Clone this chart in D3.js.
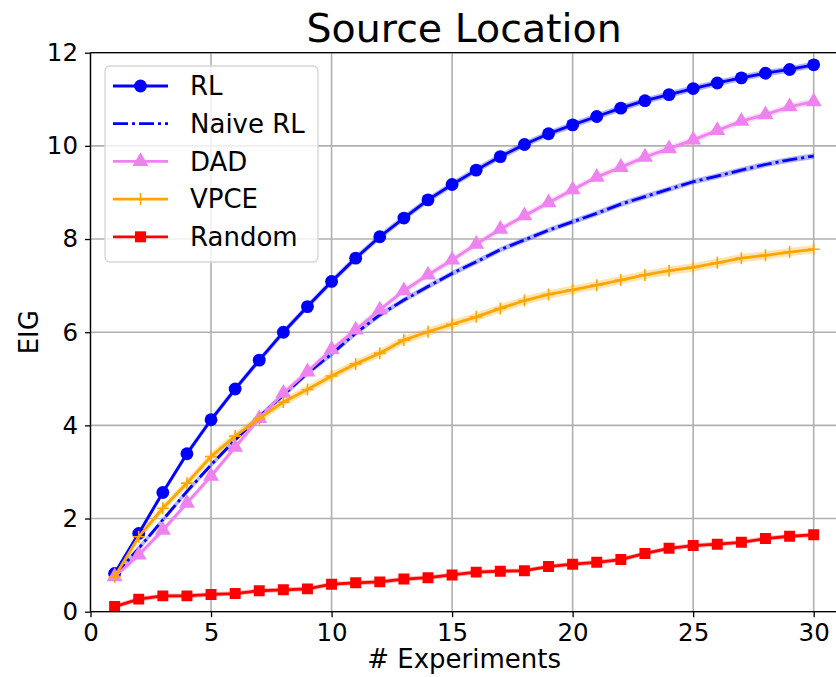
<!DOCTYPE html>
<html>
  <head>
    <title>Source Location</title>
    <style>
      body { margin: 0; background: #fff; }
      text { font-family: "DejaVu Sans", sans-serif; fill: #000; }
    </style>
    <script src="https://cdn.jsdelivr.net/npm/d3@7/dist/d3.min.js"></script>
  </head>
  <body>
    <script>
      // experiments 1..30
      const experiments = d3.range(1, 31);
      const xTicks = [0, 5, 10, 15, 20, 25, 30];
      const yTicks = [0, 2, 4, 6, 8, 10, 12];

      const rl = [0.82, 1.68, 2.56, 3.39, 4.12, 4.78, 5.40, 6.00, 6.55, 7.09,
                  7.59, 8.05, 8.45, 8.84, 9.17, 9.48, 9.77, 10.03, 10.26, 10.45,
                  10.63, 10.81, 10.97, 11.10, 11.23, 11.35, 11.46, 11.56, 11.64, 11.74];
      const naiveRl = [0.78, 1.36, 1.97, 2.58, 3.15, 3.69, 4.19, 4.65, 5.12, 5.53,
                       5.98, 6.37, 6.69, 6.98, 7.26, 7.51, 7.77, 7.98, 8.19, 8.37,
                       8.55, 8.75, 8.91, 9.07, 9.23, 9.35, 9.48, 9.60, 9.70, 9.78];
      const dad = [0.75, 1.22, 1.75, 2.33, 2.91, 3.53, 4.15, 4.69, 5.15, 5.63,
                   6.05, 6.48, 6.89, 7.23, 7.55, 7.89, 8.21, 8.50, 8.78, 9.06,
                   9.33, 9.54, 9.76, 9.94, 10.13, 10.33, 10.53, 10.67, 10.84, 10.95];
      const vpce = [0.75, 1.61, 2.22, 2.76, 3.33, 3.77, 4.15, 4.50, 4.77, 5.06,
                    5.32, 5.55, 5.83, 6.01, 6.17, 6.33, 6.51, 6.68, 6.81, 6.91,
                    7.01, 7.12, 7.23, 7.32, 7.39, 7.49, 7.59, 7.65, 7.72, 7.78];
      const random = [0.11, 0.27, 0.34, 0.34, 0.37, 0.39, 0.45, 0.47, 0.49, 0.59,
                      0.62, 0.64, 0.70, 0.73, 0.79, 0.85, 0.87, 0.88, 0.97, 1.02,
                      1.06, 1.12, 1.25, 1.36, 1.42, 1.45, 1.49, 1.57, 1.62, 1.65];
      // half width of the shaded band around each curve
      const bandHalf = {rl: 0.07, naiveRl: 0.06, dad: 0.07, vpce: 0.09, random: 0.05};

      const series = [
        {name: 'RL', key: 'rl', values: rl, color: '#0000ff', marker: 'circle', dash: null},
        {name: 'Naive RL', key: 'naiveRl', values: naiveRl, color: '#0000ff', marker: null, dash: '15,4,3,4'},
        {name: 'DAD', key: 'dad', values: dad, color: '#ee82ee', marker: 'triangle', dash: null},
        {name: 'VPCE', key: 'vpce', values: vpce, color: '#ffa500', marker: 'plus', dash: null},
        {name: 'Random', key: 'random', values: random, color: '#ff0000', marker: 'square', dash: null}
      ];

      const width = 836, height = 677;
      const margin = {left: 90.5, top: 52.7, bottom: 611.7, right: 837.8};

      const svg = d3.select('body').append('svg')
        .attr('width', width).attr('height', height);

      const x = d3.scaleLinear().domain([0, 31]).range([margin.left, margin.right]);
      const y = d3.scaleLinear().domain([0, 12]).range([margin.bottom, margin.top]);
      const midX = (margin.left + margin.right) / 2;

      svg.append('clipPath').attr('id', 'plot')
        .append('rect').attr('x', margin.left).attr('y', margin.top)
        .attr('width', margin.right - margin.left).attr('height', margin.bottom - margin.top);

      // grid
      const grid = svg.append('g').attr('stroke', '#b0b0b0').attr('stroke-width', 1.6);
      grid.selectAll('.gx').data(xTicks).join('line').attr('class', 'gx')
        .attr('x1', d => x(d)).attr('x2', d => x(d)).attr('y1', margin.top).attr('y2', margin.bottom);
      grid.selectAll('.gy').data(yTicks).join('line').attr('class', 'gy')
        .attr('x1', margin.left).attr('x2', margin.right).attr('y1', d => y(d)).attr('y2', d => y(d));

      const plot = svg.append('g').attr('clip-path', 'url(#plot)');

      const band = d3.area()
        .x((d, i) => x(experiments[i]))
        .y0(d => y(d.v - d.h)).y1(d => y(d.v + d.h));
      const line = d3.line().x((d, i) => x(experiments[i])).y(d => y(d));

      const sym = {
        circle: d3.symbol(d3.symbolCircle, 130),
        triangle: d3.symbol(d3.symbolTriangle, 110),
        square: d3.symbol(d3.symbolSquare, 120)
      };

      function drawMarker(g, s, cx, cy) {
        if (s.marker === 'plus') {
          g.append('path').attr('d', `M${cx},${cy - 6}V${cy + 6}M${cx - 6},${cy}H${cx + 6}`)
            .attr('stroke', s.color).attr('stroke-width', 1.6).attr('fill', 'none');
        } else if (s.marker) {
          g.append('path').attr('d', sym[s.marker]())
            .attr('transform', `translate(${cx},${cy})`)
            .attr('fill', s.color);
        }
      }

      series.forEach(s => {
        plot.append('path')
          .datum(s.values.map(v => ({v: v, h: bandHalf[s.key]})))
          .attr('d', band).attr('fill', s.color).attr('opacity', 0.3);
      });

      series.forEach(s => {
        plot.append('path').datum(s.values).attr('d', line)
          .attr('fill', 'none').attr('stroke', s.color).attr('stroke-width', 2.8)
          .attr('stroke-dasharray', s.dash);
        const mg = plot.append('g');
        s.values.forEach((v, i) => drawMarker(mg, s, x(experiments[i]), y(v)));
      });

      // spines
      svg.append('line').attr('x1', margin.left).attr('x2', margin.left)
        .attr('y1', margin.top).attr('y2', margin.bottom)
        .attr('stroke', '#000').attr('stroke-width', 1.3);
      svg.append('line').attr('x1', margin.left).attr('x2', margin.right)
        .attr('y1', margin.bottom).attr('y2', margin.bottom)
        .attr('stroke', '#000').attr('stroke-width', 1.3);
      svg.append('line').attr('x1', margin.left).attr('x2', margin.right)
        .attr('y1', margin.top).attr('y2', margin.top)
        .attr('stroke', '#000').attr('stroke-width', 1.3);

      // axes
      const xAxis = svg.append('g').attr('transform', `translate(0,${margin.bottom})`)
        .call(d3.axisBottom(x).tickValues(xTicks).tickSize(5.5).tickPadding(6));
      const yAxis = svg.append('g').attr('transform', `translate(${margin.left},0)`)
        .call(d3.axisLeft(y).tickValues(yTicks).tickSize(5.5).tickPadding(7));
      [xAxis, yAxis].forEach(a => {
        a.select('.domain').remove();
        a.selectAll('line').attr('stroke', '#000').attr('stroke-width', 1.3);
        a.selectAll('text').attr('font-size', 24.5).attr('font-family', 'DejaVu Sans').attr('fill', '#000');
      });

      // title and labels
      svg.append('text').attr('x', midX).attr('y', 42).attr('text-anchor', 'middle')
        .attr('font-size', 39.5).text('Source Location');
      svg.append('text').attr('x', midX).attr('y', 668).attr('text-anchor', 'middle')
        .attr('font-size', 26).text('# Experiments');
      svg.append('text').attr('transform', `translate(38,${(margin.top + margin.bottom) / 2}) rotate(-90)`)
        .attr('text-anchor', 'middle').attr('font-size', 26).text('EIG');

      // legend
      const lg = svg.append('g');
      lg.append('rect').attr('x', 105).attr('y', 66).attr('width', 213).attr('height', 196)
        .attr('rx', 5).attr('fill', '#fff').attr('fill-opacity', 0.8)
        .attr('stroke', '#d6d6d6').attr('stroke-width', 1.3);
      series.forEach((s, i) => {
        const cy = 86 + i * 37.7;
        lg.append('line').attr('x1', 113).attr('x2', 168).attr('y1', cy).attr('y2', cy)
          .attr('stroke', s.color).attr('stroke-width', 2.8).attr('stroke-dasharray', s.dash);
        drawMarker(lg, s, 140.5, cy);
        lg.append('text').attr('x', 190).attr('y', cy).attr('dy', '0.36em')
          .attr('font-size', 26).text(s.name);
      });
    </script>
  </body>
</html>
